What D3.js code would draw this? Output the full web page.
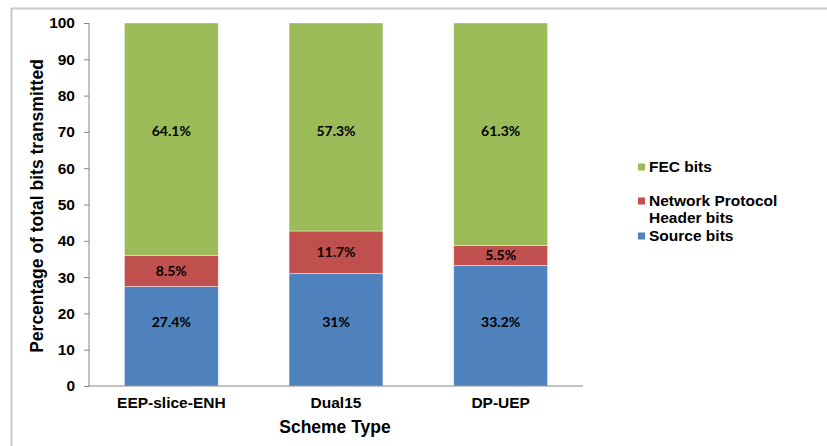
<!DOCTYPE html>
<html>
<head>
<meta charset="utf-8">
<script src="https://cdn.jsdelivr.net/npm/d3@7"></script>
<style>
  body { margin: 0; background: #fff; }
  text { font-family: "Liberation Sans", Arial, sans-serif; font-weight: bold; fill: #000; }
  .val { font-family: Lato, "Open Sans", sans-serif; font-size: 14px; }
</style>
</head>
<body>
<script>
// chart data
var schemes = ['EEP-slice-ENH', 'Dual15', 'DP-UEP'];
var sourceBits = [27.4, 31, 33.2];
var headerBits = [8.5, 11.7, 5.5];
var fecBits = [64.1, 57.3, 61.3];
var sourceLabels = ['27.4%', '31%', '33.2%'];
var headerLabels = ['8.5%', '11.7%', '5.5%'];
var fecLabels = ['64.1%', '57.3%', '61.3%'];
var yTicks = [0, 10, 20, 30, 40, 50, 60, 70, 80, 90, 100];

// labelAt: where the data label sits (in axis units); null = centre of the segment
var series = [
	{ name: 'Source bits', values: sourceBits, labels: sourceLabels, color: '#4f81bd', labelAt: 17.6 },
	{ name: 'Network Protocol Header bits', values: headerBits, labels: headerLabels, color: '#c0504d', labelAt: null },
	{ name: 'FEC bits', values: fecBits, labels: fecLabels, color: '#9bbb59', labelAt: 70.2 }
];

var margin = { top: 23, left: 89 },
	width = 583 - margin.left,
	height = 386 - margin.top;

var svg = d3.select('body').append('svg')
	.attr('width', 827)
	.attr('height', 446);

// outer frame of the chart area
svg.append('rect')
	.attr('x', 11.5).attr('y', 8.5)
	.attr('width', 900).attr('height', 600)
	.attr('fill', 'none')
	.attr('stroke', '#c8c8c8')
	.attr('stroke-width', 2);

var xScale = d3.scaleBand().domain(schemes).range([0, width]).paddingInner(0.43).paddingOuter(0.215);
var yScale = d3.scaleLinear().domain([0, 100]).range([height, 0]);

var g = svg.append('g').attr('transform', `translate(${margin.left}, ${margin.top})`);

// stack the segments
var rows = schemes.map(function(s, i) {
	var r = { scheme: s };
	series.forEach(function(se) { r[se.name] = se.values[i]; });
	return r;
});
var stack = d3.stack().keys(series.map(function(s) { return s.name; }));
var stacked = stack(rows);

stacked.forEach(function(layer, k) {
	var se = series[k];
	var lg = g.append('g');
	lg.selectAll('rect')
		.data(layer)
		.enter().append('rect')
		.attr('x', function(d) { return xScale(d.data.scheme); })
		.attr('y', function(d) { return yScale(d[1]); })
		.attr('width', xScale.bandwidth())
		.attr('height', function(d) { return yScale(d[0]) - yScale(d[1]); })
		.attr('fill', se.color)
		.attr('stroke', 'rgba(255,255,255,0.6)')
		.attr('stroke-width', 0.7);
	lg.selectAll('text')
		.data(layer)
		.enter().append('text')
		.attr('class', 'val')
		.attr('x', function(d) { return xScale(d.data.scheme) + xScale.bandwidth() / 2; })
		.attr('y', function(d) { return yScale(se.labelAt != null ? se.labelAt : (d[0] + d[1]) / 2); })
		.attr('dy', '0.35em')
		.attr('text-anchor', 'middle')
		.text(function(d, i) { return se.labels[i]; });
});

// y axis
var yAxis = d3.axisLeft(yScale).tickValues(yTicks).tickSize(5).tickPadding(9);
var ya = g.append('g').call(yAxis);
ya.selectAll('text').style('font-size', '15.5px');
ya.select('.domain').attr('stroke', '#868686').attr('d', `M0,0V${height}`);
ya.selectAll('.tick line').attr('stroke', '#868686');

// x axis
var xAxis = d3.axisBottom(xScale).tickSize(0).tickPadding(11);
var xa = g.append('g').attr('transform', `translate(0, ${height})`).call(xAxis);
xa.selectAll('text').style('font-size', '15.5px');
xa.select('.domain').attr('stroke', '#868686').attr('d', `M0,0H${width}`);

// axis titles
svg.append('text')
	.attr('transform', 'translate(43, 206) rotate(-90)')
	.attr('text-anchor', 'middle')
	.style('font-size', '17.5px')
	.text('Percentage of total bits transmitted');

svg.append('text')
	.attr('x', 335).attr('y', 433)
	.attr('text-anchor', 'middle')
	.style('font-size', '17.5px')
	.text('Scheme Type');

// legend
var legendItems = [
	{ lines: ['FEC bits'], color: '#9bbb59', y: 167 },
	{ lines: ['Network Protocol', 'Header bits'], color: '#c0504d', y: 201 },
	{ lines: ['Source bits'], color: '#4f81bd', y: 236 }
];
var legend = svg.append('g');
legendItems.forEach(function(it) {
	legend.append('rect')
		.attr('x', 638).attr('y', it.y - 3.5)
		.attr('width', 7).attr('height', 7)
		.attr('fill', it.color);
	var t = legend.append('text')
		.attr('x', 649).attr('y', it.y)
		.style('font-size', '15.5px');
	it.lines.forEach(function(l, i) {
		t.append('tspan').attr('x', 649).attr('dy', i === 0 ? '0.35em' : '17px').text(l);
	});
});
</script>
</body>
</html>
